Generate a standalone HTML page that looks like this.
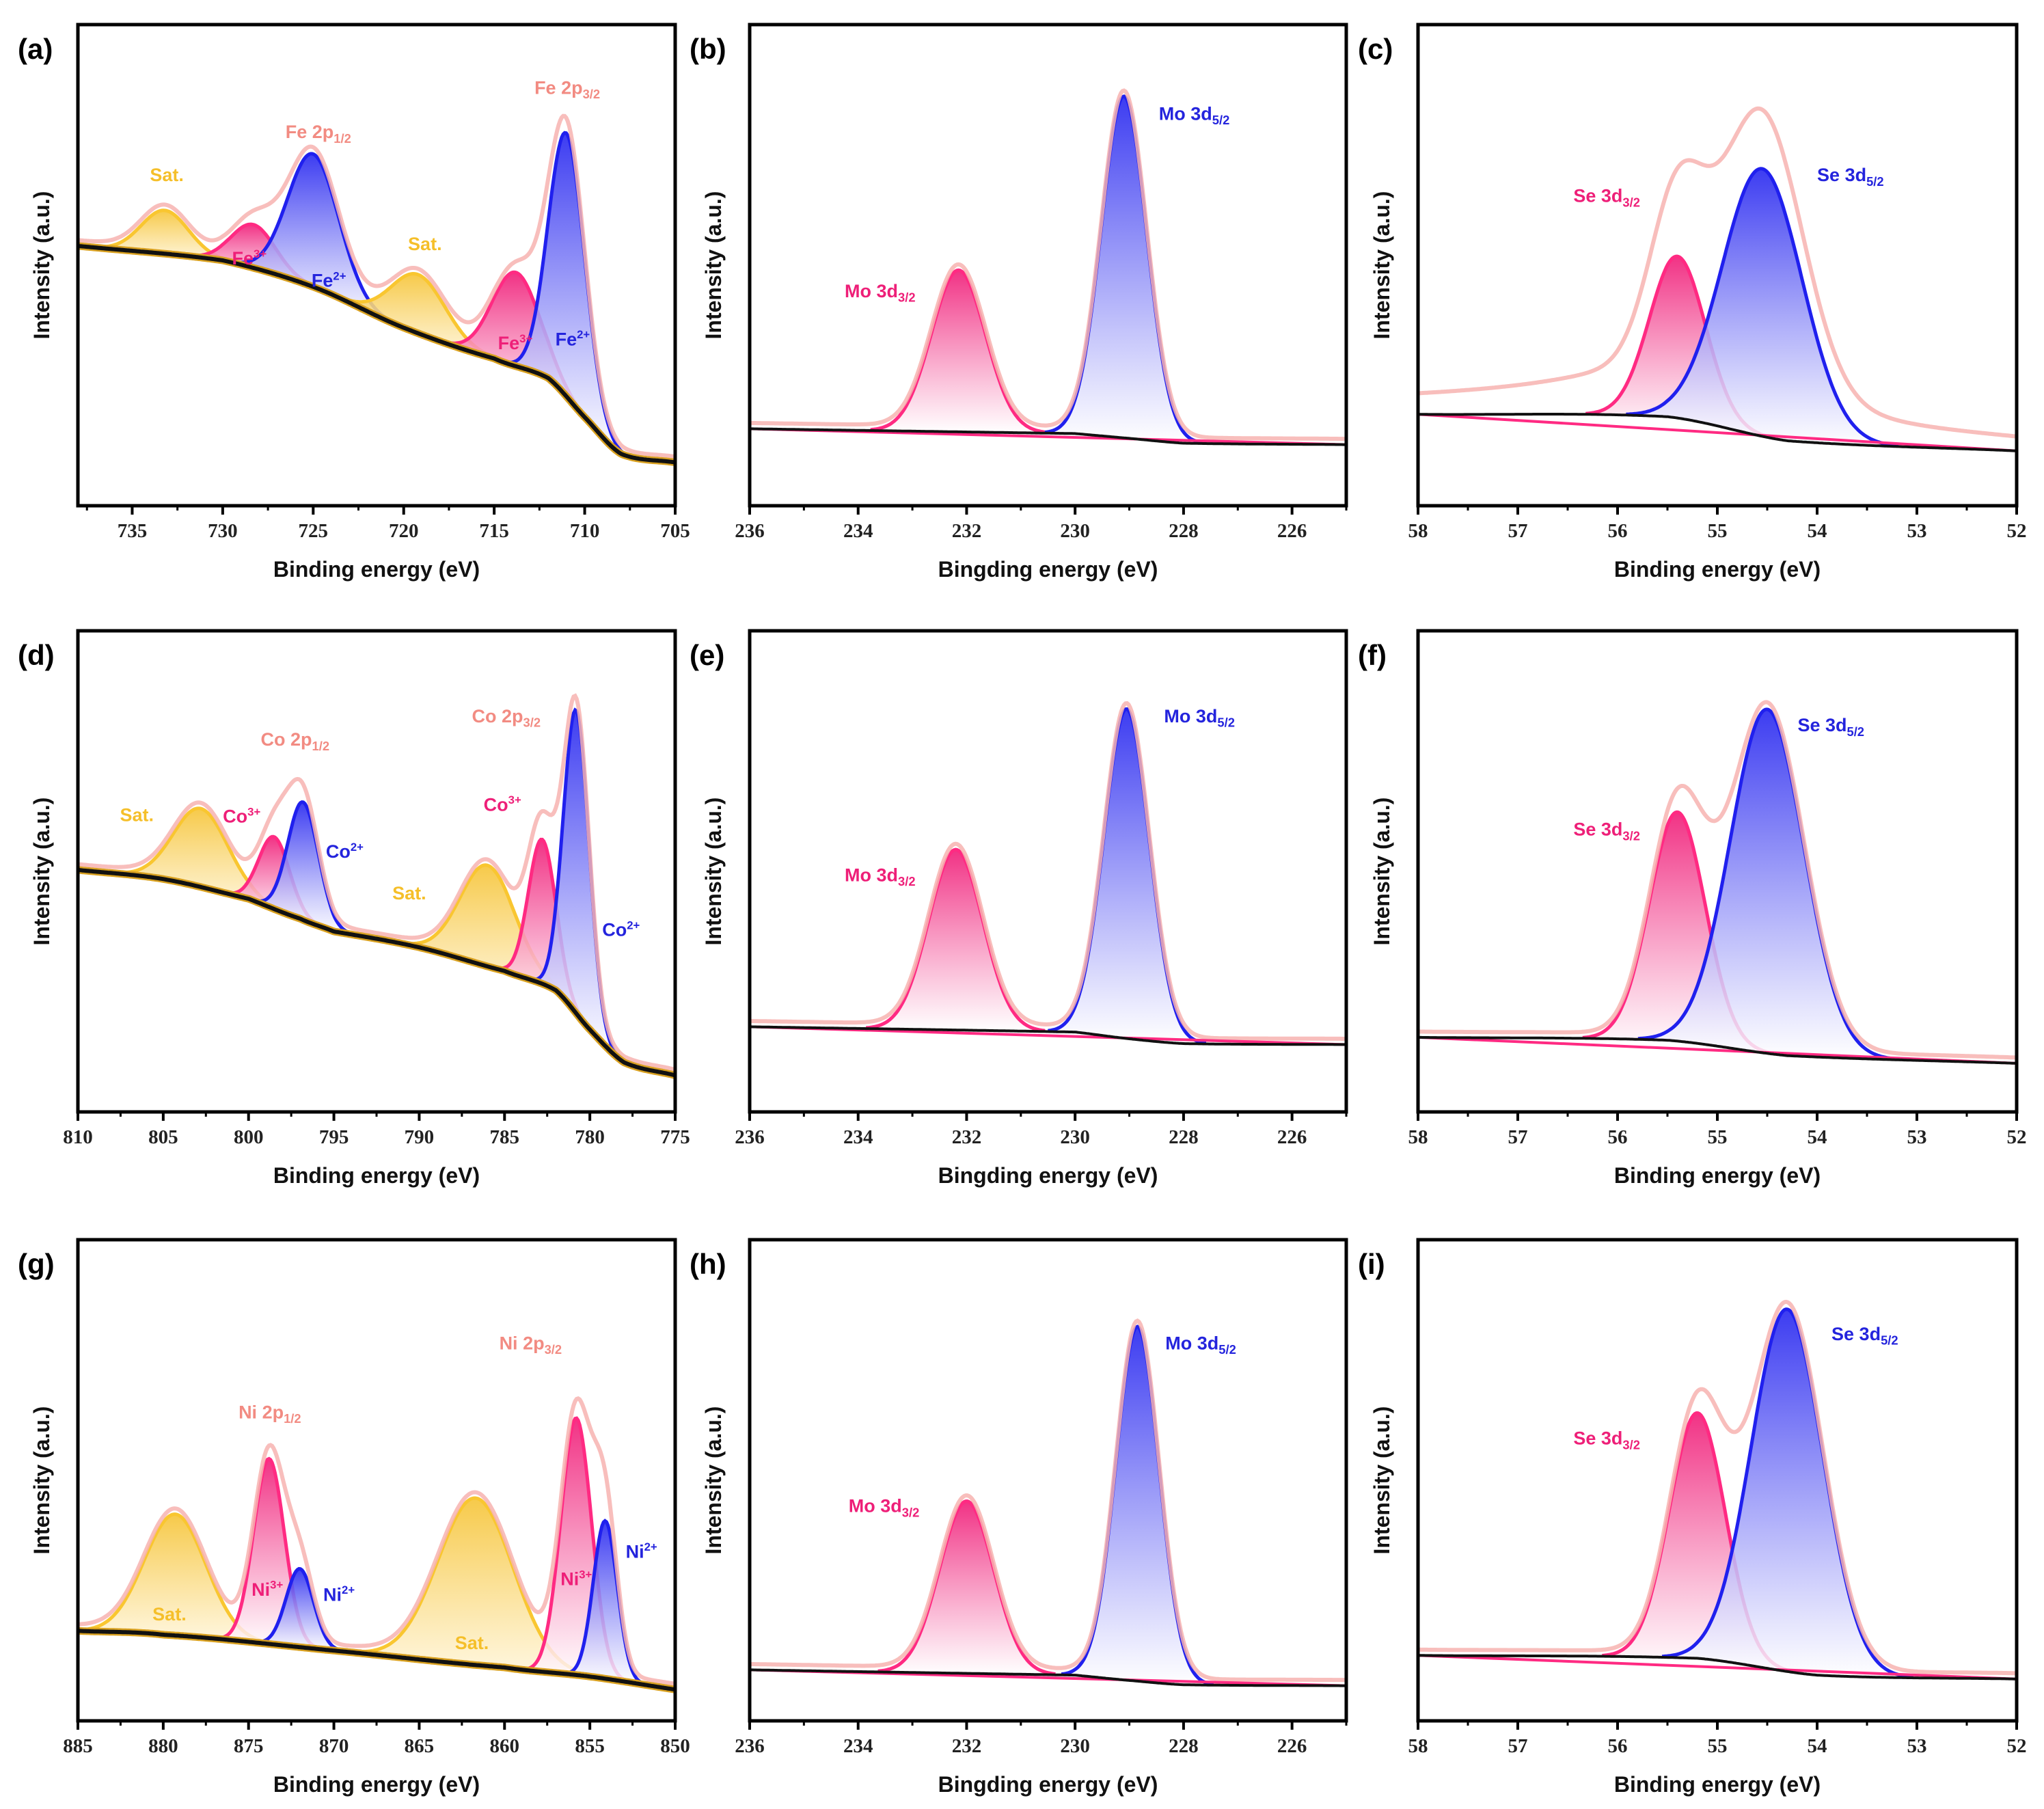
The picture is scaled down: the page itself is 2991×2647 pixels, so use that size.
<!DOCTYPE html>
<html><head><meta charset="utf-8"><style>
html,body{margin:0;padding:0;background:#fff;}
svg{display:block;}
</style></head><body>
<svg id="fig" width="2991" height="2647" viewBox="0 0 2991 2647" xmlns="http://www.w3.org/2000/svg" font-family="Liberation Sans, sans-serif">
<defs>
<linearGradient id="gBlue" x1="0" y1="0" x2="0" y2="1"><stop offset="0" stop-color="#2b2bf0"/><stop offset="1" stop-color="#ffffff" stop-opacity="0.9"/></linearGradient>
<linearGradient id="gPink" x1="0" y1="0" x2="0" y2="1"><stop offset="0" stop-color="#f0207a"/><stop offset="1" stop-color="#ffffff" stop-opacity="0.9"/></linearGradient>
<linearGradient id="gGold" x1="0" y1="0" x2="0" y2="1"><stop offset="0" stop-color="#f6c53a"/><stop offset="1" stop-color="#fff6dc" stop-opacity="0.9"/></linearGradient>
</defs>
</svg>
<script>
// ---- data arrays (x in eV, intensity in 0..100 frame units) ----
const aBaseX=[738,730,725,720,715,712,710,708,705];
const aBaseY=[54,51,45.5,37,30.6,26.5,18.4,10.8,9];
const aCenters=[733.2,728.3,725,719.2,713.8,711];
const aHeights=[9,9,27.6,12.2,19.5,54.7];
const aWidths=[1.3,1.2,1.4,1.5,1.3,1.0];
const aKinds=['gold','pink','blue','gold','pink','blue'];

const bBaseX=[236,230,229,228,225];
const bBaseY=[16,15,14,13,12.7];
const bCenters=[232.15,229.1];
const bHeights=[33.6,71];
const bWidths=[0.5,0.42];
const bKinds=['pink','blue'];

const cBaseX=[58,55.5,54.3,52];
const cBaseY=[19,18.5,13.5,11.4];
const cCenters=[55.4,54.55];
const cHeights=[33.6,55.6];
const cWidths=[0.28,0.4];
const cKinds=['pink','blue'];
const cExtraCenters=[55.0,55.6];
const cExtraHeights=[7,5];
const cExtraWidths=[0.9,2.5];

const dBaseX=[810,805,800,797,795,790,785,782,780,778,775];
const dBaseY=[50.3,48.4,44.3,40.2,37.5,34.2,29.3,25.3,17.1,10.3,7.6];
const dCenters=[802.8,798.5,796.8,786,782.8,780.8];
const dHeights=[16.3,15,24.5,21,30,63];
const dWidths=[1.6,0.9,0.9,1.6,0.8,0.75];
const dKinds=['gold','pink','blue','gold','pink','blue'];

const eBaseX=[236,230,229,228,225];
const eBaseY=[17.7,16.6,15.2,14.2,14];
const eCenters=[232.2,229.05];
const eHeights=[37.5,68.5];
const eWidths=[0.5,0.42];
const eKinds=['pink','blue'];

const fBaseX=[58,55.5,54.3,52];
const fBaseY=[15.5,14.9,11.7,10.1];
const fCenters=[55.4,54.5];
const fHeights=[47.6,71.5];
const fWidths=[0.28,0.37];
const fKinds=['pink','blue'];

const gBaseX=[885,880,870,860,855,850];
const gBaseY=[18.7,17.9,14.6,11.1,9.2,6.5];
const gCenters=[879.3,873.8,872,861.7,855.8,854.1];
const gHeights=[25.2,38.5,16.3,34.7,53.4,32.8];
const gWidths=[1.8,0.9,0.8,2.2,0.9,0.7];
const gKinds=['gold','pink','blue','gold','pink','blue'];

const hBaseX=[236,230,229,228,225];
const hBaseY=[10.6,9.5,8.4,7.5,7.3];
const hCenters=[232,228.85];
const hHeights=[35.8,73.7];
const hWidths=[0.5,0.4];
const hKinds=['pink','blue'];

const iBaseX=[58,55.2,54,52];
const iBaseY=[13.6,13,9.5,8.7];
const iCenters=[55.2,54.3];
const iHeights=[51,75.3];
const iWidths=[0.28,0.36];
const iKinds=['pink','blue'];

const feTicks=[735,730,725,720,715,710,705];
const coTicks=[810,805,800,795,790,785,780,775];
const niTicks=[885,880,875,870,865,860,855,850];
const moTicks=[236,234,232,230,228,226];
const seTicks=[58,57,56,55,54,53,52];

// ---- layout ----
const colL=[114,1097,2075], colR=[988,1970,2951];
const rowT=[36,923,1814], rowB=[740,1627,2518];
const svg=document.getElementById('fig');
const NS='http://www.w3.org/2000/svg';
const strokeCol={blue:'#2020ee',pink:'#ff2a82',gold:'#f9c630'};
const fillId={blue:'url(#gBlue)',pink:'url(#gPink)',gold:'url(#gGold)'};

function mk(tag,attrs,parent){const e=document.createElementNS(NS,tag);for(const k in attrs)e.setAttribute(k,attrs[k]);(parent||svg).appendChild(e);return e;}

function baseAt(bx,by,x){
  const n=bx.length;
  for(let i=0;i<n-1;i++){
    const x0=bx[i],x1=bx[i+1];
    if((x<=x0&&x>=x1)||(x>=x0&&x<=x1)){
      const t=(x-x0)/(x1-x0);
      const p1=by[i],p2=by[i+1];
      const p0=i>0?by[i-1]:2*p1-p2;
      const p3=i+2<n?by[i+2]:2*p2-p1;
      const t2=t*t,t3=t2*t;
      return 0.5*((2*p1)+(-p0+p2)*t+(2*p0-5*p1+4*p2-p3)*t2+(-p0+3*p1-3*p2+p3)*t3);
    }
  }
  return by[n-1];
}

function label(g,x,y,main,sub,sup,color,size,name){
  const t=mk('text',{x:x,y:y,fill:color,'font-size':size,'font-weight':'bold'},g);
  
  
  const s1=mk('tspan',{},t);s1.textContent=main;
  if(sub){const s=mk('tspan',{'font-size':size*0.68,dy:size*0.25},t);s.textContent=sub;}
  if(sup){const s=mk('tspan',{'font-size':size*0.62,dy:-size*0.38},t);s.textContent=sup;}
  return t;
}

function gauss(h,c,w,x){return h*Math.exp(-((x-c)*(x-c))/(2*w*w));}

function panel(o){
  const L=colL[o.col],R=colR[o.col],T=rowT[o.row],B=rowB[o.row];
  const g=mk('g',{});
  
  
  const xs=x=>L+(o.x0-x)/(o.x0-o.x1)*(R-L);
  const ys=v=>T+(100-v)/100*(B-T);
  const N=400;
  const pts=[];for(let k=0;k<=N;k++)pts.push(o.x0+(o.x1-o.x0)*k/N);
  o.centers.forEach((c,j)=>{
    const h=o.heights[j],w=o.widths[j];
    const top=[],bot=[];
    pts.forEach(x=>{const p=gauss(h,c,w,x);if(p>0.15){const b=baseAt(o.bx,o.by,x);top.push([xs(x),ys(b+p)]);bot.push([xs(x),ys(b)]);}});
    if(!top.length)return;
    const d='M'+top.map(p=>p[0].toFixed(1)+','+p[1].toFixed(1)).join('L')+'L'+bot.reverse().map(p=>p[0].toFixed(1)+','+p[1].toFixed(1)).join('L')+'Z';
    const area=mk('path',{d:d,fill:fillId[o.kinds[j]],opacity:0.92},g);
    
    
    const line=mk('path',{d:'M'+top.map(p=>p[0].toFixed(1)+','+p[1].toFixed(1)).join('L'),fill:'none',stroke:strokeCol[o.kinds[j]],'stroke-width':5},g);
    
    
  });
  const env=pts.map(x=>{let s=baseAt(o.bx,o.by,x);
    o.centers.forEach((c,j)=>{s+=gauss(o.heights[j],c,o.widths[j],x);});
    if(o.ec)o.ec.forEach((c,j)=>{s+=gauss(o.eh[j],c,o.ew[j],x);});
    return [xs(x),ys(s+1.2)];});
  const envEl=mk('path',{d:'M'+env.map(p=>p[0].toFixed(1)+','+p[1].toFixed(1)).join('L'),fill:'none',stroke:'#f7b3b0','stroke-width':6,'stroke-opacity':0.85},g);
  
  
  if(o.straight){
    const sb=mk('line',{x1:xs(o.x0),y1:ys(o.by[0]),x2:xs(o.x1),y2:ys(o.by[o.by.length-1]),stroke:'#ff2a82','stroke-width':4},g);
    
    
  }
  const bl=pts.map(x=>[xs(x),ys(baseAt(o.bx,o.by,x))]);
  const blD='M'+bl.map(p=>p[0].toFixed(1)+','+p[1].toFixed(1)).join('L');
  if(!o.straight){mk('path',{d:blD,fill:'none',stroke:'#d8a020','stroke-width':11},g);}
  const blEl=mk('path',{d:blD,fill:'none',stroke:'#111','stroke-width':o.straight?4:6},g);
  
  
  const fr=mk('rect',{x:L,y:T,width:R-L,height:B-T,fill:'none',stroke:'#000','stroke-width':5},g);
  
  
  const step=o.ticks[0]-o.ticks[1];
  for(let k=0;k<o.ticks.length;k++){
    const v=o.ticks[k],X=xs(v);
    const tk=mk('line',{x1:X,y1:B,x2:X,y2:B+13,stroke:'#000','stroke-width':4},g);
    
    
    const mv=v-step/2;
    if(mv>=Math.min(o.x0,o.x1)&&mv<=Math.max(o.x0,o.x1)){const Xm=xs(mv);mk('line',{x1:Xm,y1:B,x2:Xm,y2:B+7,stroke:'#000','stroke-width':3},g);}
    const pv=v+step/2;
    if(k===0&&pv<=o.x0){const Xp=xs(pv);mk('line',{x1:Xp,y1:B,x2:Xp,y2:B+7,stroke:'#000','stroke-width':3},g);}
    const lt=mk('text',{x:X,y:B+46,'text-anchor':'middle','font-size':29,'font-family':'Liberation Serif, serif','font-weight':'bold',fill:'#222'},g);
    
    
    lt.textContent=v;
  }
  const xt=mk('text',{x:(L+R)/2,y:B+104,'text-anchor':'middle','font-size':32,'font-weight':'bold',fill:'#111'},g);
  
  
  xt.textContent=o.xtitle;
  const yx=L-42,yy=(T+B)/2;
  const yt=mk('text',{x:yx,y:yy,'text-anchor':'middle','font-size':32,'font-weight':'bold',fill:'#111',transform:'rotate(-90 '+yx+' '+yy+')'},g);
  
  
  yt.textContent='Intensity (a.u.)';
  const pl=mk('text',{x:L-88,y:T+50,'font-size':42,'font-weight':'bold',fill:'#000'},g);
  
  
  pl.textContent='('+o.id+')';
  const S=1.9075;
  o.labels.forEach((lb,j)=>{label(g,lb[0]*S,lb[1]*S,lb[2],lb[3],lb[4],lb[5],27,'peak-label-'+o.id+'-'+j);});
}

const SAL='#f28b82',GOLD='#f5bf2a',PK='#ee1f78',BL='#2424dd';
panel({id:'a',col:0,row:0,x0:738,x1:705,bx:aBaseX,by:aBaseY,centers:aCenters,heights:aHeights,widths:aWidths,kinds:aKinds,ticks:feTicks,xtitle:'Binding energy (eV)',
 labels:[[115,139,'Sat.','','',GOLD],[219,106,'Fe 2p','1/2','',SAL],[313,192,'Sat.','','',GOLD],[410,72,'Fe 2p','3/2','',SAL],[178,203,'Fe','','3+',PK],[239,220,'Fe','','2+',BL],[382,268,'Fe','','3+',PK],[426,265,'Fe','','2+',BL]]});
panel({id:'b',col:1,row:0,x0:236,x1:225,bx:bBaseX,by:bBaseY,centers:bCenters,heights:bHeights,widths:bWidths,kinds:bKinds,ticks:moTicks,xtitle:'Bingding energy (eV)',straight:true,
 labels:[[648,228,'Mo 3d','3/2','',PK],[889,92,'Mo 3d','5/2','',BL]]});
panel({id:'c',col:2,row:0,x0:58,x1:52,bx:cBaseX,by:cBaseY,centers:cCenters,heights:cHeights,widths:cWidths,kinds:cKinds,ticks:seTicks,xtitle:'Binding energy (eV)',straight:true,
 ec:cExtraCenters,eh:cExtraHeights,ew:cExtraWidths,
 labels:[[1207,155,'Se 3d','3/2','',PK],[1394,139,'Se 3d','5/2','',BL]]});
panel({id:'d',col:0,row:1,x0:810,x1:775,bx:dBaseX,by:dBaseY,centers:dCenters,heights:dHeights,widths:dWidths,kinds:dKinds,ticks:coTicks,xtitle:'Binding energy (eV)',
 labels:[[92,630,'Sat.','','',GOLD],[200,572,'Co 2p','1/2','',SAL],[171,631,'Co','','3+',PK],[250,658,'Co','','2+',BL],[301,690,'Sat.','','',GOLD],[362,554,'Co 2p','3/2','',SAL],[371,622,'Co','','3+',PK],[462,718,'Co','','2+',BL]]});
panel({id:'e',col:1,row:1,x0:236,x1:225,bx:eBaseX,by:eBaseY,centers:eCenters,heights:eHeights,widths:eWidths,kinds:eKinds,ticks:moTicks,xtitle:'Bingding energy (eV)',straight:true,
 labels:[[648,676,'Mo 3d','3/2','',PK],[893,554,'Mo 3d','5/2','',BL]]});
panel({id:'f',col:2,row:1,x0:58,x1:52,bx:fBaseX,by:fBaseY,centers:fCenters,heights:fHeights,widths:fWidths,kinds:fKinds,ticks:seTicks,xtitle:'Binding energy (eV)',straight:true,
 labels:[[1207,641,'Se 3d','3/2','',PK],[1379,561,'Se 3d','5/2','',BL]]});
panel({id:'g',col:0,row:2,x0:885,x1:850,bx:gBaseX,by:gBaseY,centers:gCenters,heights:gHeights,widths:gWidths,kinds:gKinds,ticks:niTicks,xtitle:'Binding energy (eV)',
 labels:[[183,1088,'Ni 2p','1/2','',SAL],[383,1035,'Ni 2p','3/2','',SAL],[117,1243,'Sat.','','',GOLD],[193,1224,'Ni','','3+',PK],[248,1228,'Ni','','2+',BL],[349,1265,'Sat.','','',GOLD],[430,1216,'Ni','','3+',PK],[480,1195,'Ni','','2+',BL]]});
panel({id:'h',col:1,row:2,x0:236,x1:225,bx:hBaseX,by:hBaseY,centers:hCenters,heights:hHeights,widths:hWidths,kinds:hKinds,ticks:moTicks,xtitle:'Bingding energy (eV)',straight:true,
 labels:[[651,1160,'Mo 3d','3/2','',PK],[894,1035,'Mo 3d','5/2','',BL]]});
panel({id:'i',col:2,row:2,x0:58,x1:52,bx:iBaseX,by:iBaseY,centers:iCenters,heights:iHeights,widths:iWidths,kinds:iKinds,ticks:seTicks,xtitle:'Binding energy (eV)',straight:true,
 labels:[[1207,1108,'Se 3d','3/2','',PK],[1405,1028,'Se 3d','5/2','',BL]]});
</script>
</body></html>
